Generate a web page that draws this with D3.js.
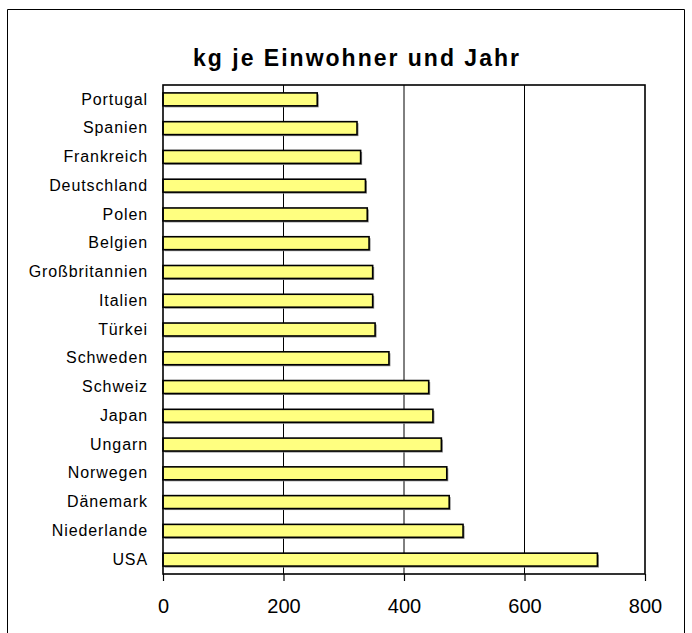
<!DOCTYPE html>
<html>
<head>
<meta charset="utf-8">
<script src="https://cdn.jsdelivr.net/npm/d3@7"></script>
<style>
  body { margin: 0; background: #fff; }
  text { font-family: "Liberation Sans", Arial, sans-serif; fill: #000; }
</style>
</head>
<body>
<script>
// Länder von oben nach unten
const countries = ["Portugal", "Spanien", "Frankreich", "Deutschland", "Polen", "Belgien",
  "Großbritannien", "Italien", "Türkei", "Schweden", "Schweiz", "Japan", "Ungarn",
  "Norwegen", "Dänemark", "Niederlande", "USA"];
// kg je Einwohner und Jahr
const values = [256, 322, 328, 336, 339, 342, 348, 348, 352, 375, 441, 448, 462, 471, 475, 498, 721];
const xTicks = [0, 200, 400, 600, 800];
const title = "kg je Einwohner und Jahr";

const width = 692;
const height = 633;
const plot = { left: 163, right: 645, top: 85, bottom: 574 };

const svg = d3.select("body")
    .append("svg")
    .attr("width", width)
    .attr("height", height);

// äußerer Rahmen (unten abgeschnitten)
svg.append("path")
    .attr("d", `M7.5,${height} V9.5 H684.5 V${height}`)
    .attr("fill", "none")
    .attr("stroke", "#000")
    .attr("stroke-width", 1);

// Titel
svg.append("text")
    .attr("x", 357)
    .attr("y", 66)
    .attr("text-anchor", "middle")
    .style("font-size", "23px")
    .style("font-weight", "bold")
    .style("letter-spacing", "2px")
    .text(title);

// Skalen
const xScale = d3.scaleLinear()
    .domain([0, 800])
    .range([plot.left, plot.right]);

const yScale = d3.scaleBand()
    .domain(countries)
    .range([plot.top, plot.bottom])
    .paddingInner(0.55)
    .paddingOuter(0.275);

// Gitternetzlinien
svg.append("g")
    .selectAll("line")
    .data(xTicks.slice(1, -1))
    .enter()
    .append("line")
    .attr("x1", d => xScale(d))
    .attr("x2", d => xScale(d))
    .attr("y1", plot.top)
    .attr("y2", plot.bottom)
    .attr("stroke", "#000")
    .attr("stroke-width", 1);

// Balken-Schatten
svg.append("g")
    .selectAll("rect")
    .data(values)
    .enter()
    .append("rect")
    .attr("x", xScale(0) + 1.5)
    .attr("y", (d, i) => yScale(countries[i]) + 1.5)
    .attr("width", d => xScale(d) - xScale(0))
    .attr("height", yScale.bandwidth())
    .attr("fill", "#888");

// Balken
svg.append("g")
    .selectAll("rect")
    .data(values)
    .enter()
    .append("rect")
    .attr("class", "bar")
    .attr("x", xScale(0))
    .attr("y", (d, i) => yScale(countries[i]))
    .attr("width", d => xScale(d) - xScale(0))
    .attr("height", yScale.bandwidth())
    .attr("fill", "#ffff80")
    .attr("stroke", "#000")
    .attr("stroke-width", 1.6);

// Rahmen der Zeichenfläche
svg.append("rect")
    .attr("x", plot.left)
    .attr("y", plot.top)
    .attr("width", plot.right - plot.left)
    .attr("height", plot.bottom - plot.top)
    .attr("fill", "none")
    .attr("stroke", "#000")
    .attr("stroke-width", 1.6);

// x-Achse
const xAxis = d3.axisBottom(xScale)
    .tickValues(xTicks)
    .tickSize(7)
    .tickPadding(18);

svg.append("g")
    .attr("transform", `translate(0,${plot.bottom})`)
    .call(xAxis)
    .call(g => g.select(".domain").remove())
    .call(g => g.selectAll("line").attr("stroke", "#000").attr("stroke-width", 1.2))
    .call(g => g.selectAll("text")
        .style("font-family", "'Liberation Sans', Arial, sans-serif")
        .style("font-size", "20px"));

// y-Achse (Ländernamen)
const yAxis = d3.axisLeft(yScale)
    .tickSize(0)
    .tickPadding(15);

svg.append("g")
    .attr("transform", `translate(${plot.left},0)`)
    .call(yAxis)
    .call(g => g.select(".domain").remove())
    .call(g => g.selectAll("text")
        .style("font-family", "'Liberation Sans', Arial, sans-serif")
        .style("font-size", "16px")
        .style("letter-spacing", "0.9px"));
</script>
</body>
</html>
